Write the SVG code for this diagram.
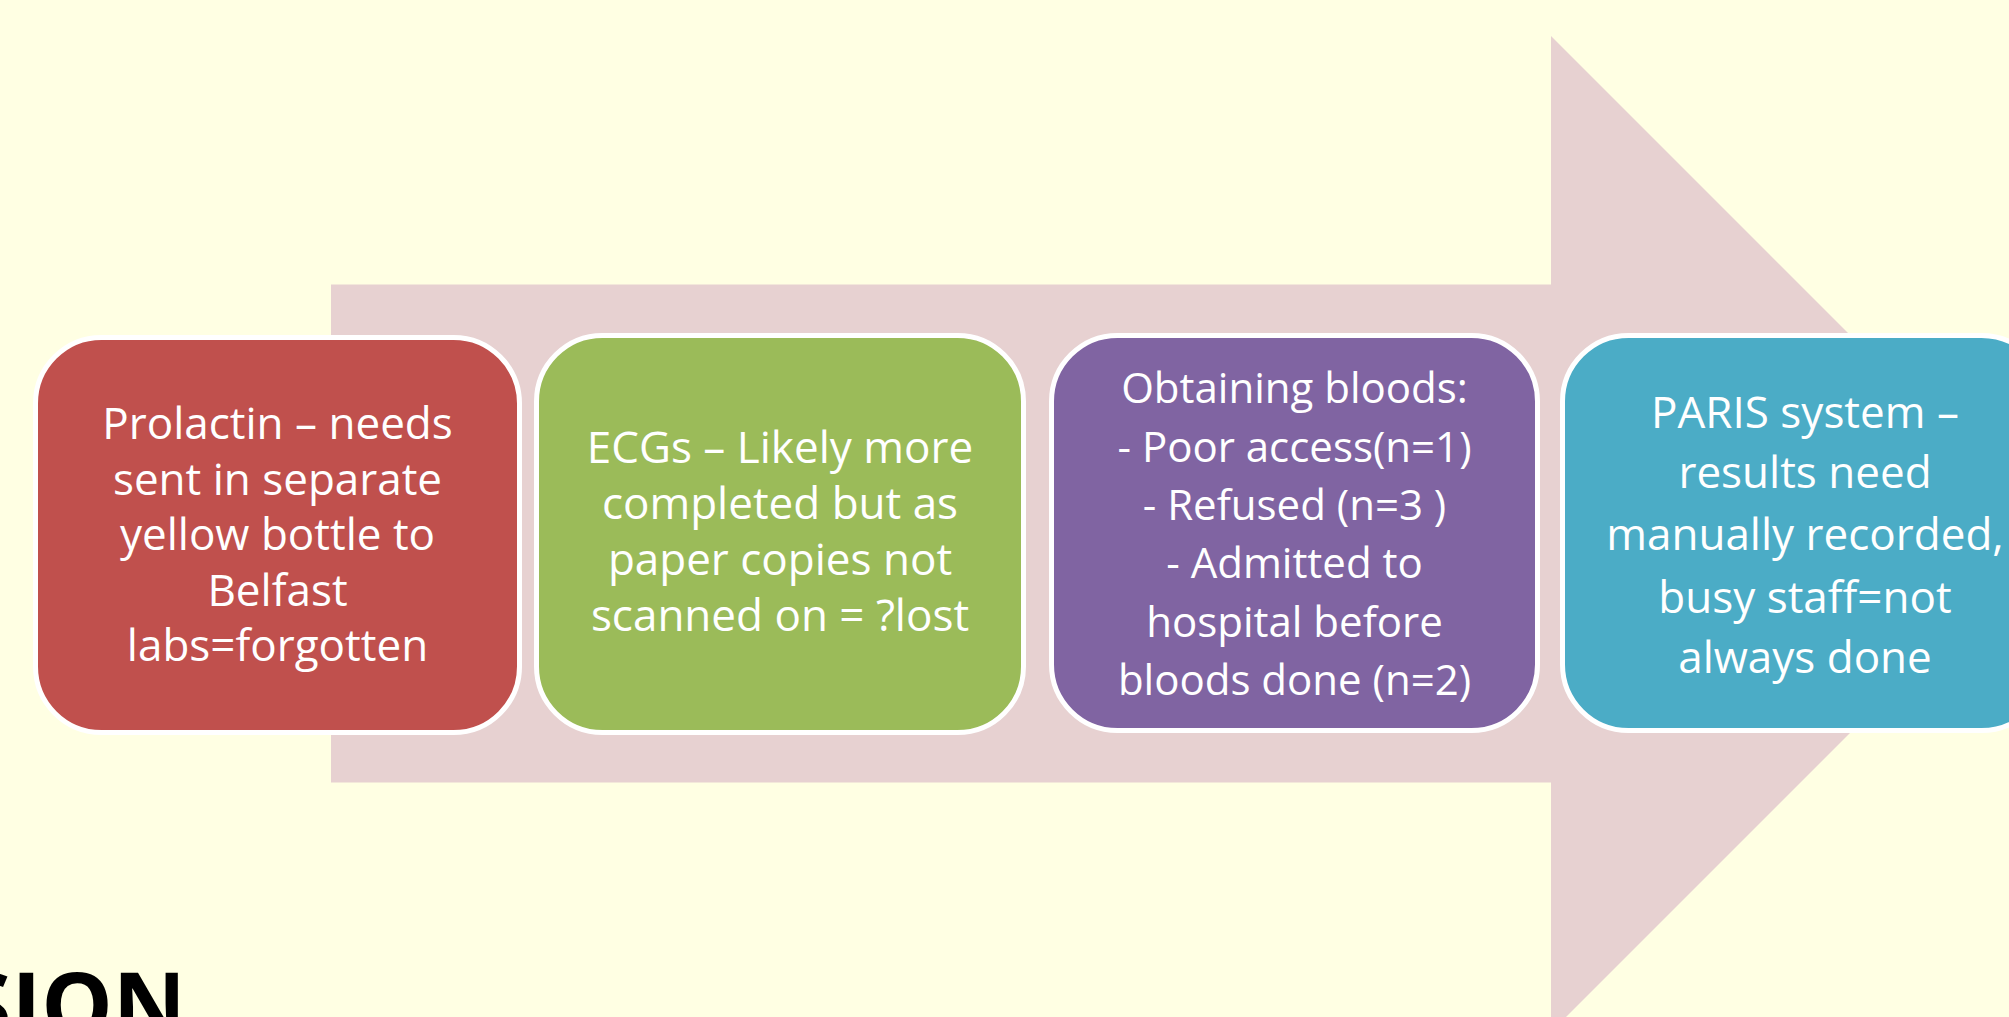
<svg xmlns="http://www.w3.org/2000/svg" width="2009" height="1017" viewBox="0 0 2009 1017">
  <style>
    .box { stroke: #FFFFFF; stroke-width: 5; }
    .t { font-family: "Open Sans", "Liberation Sans", sans-serif; font-size: 44px; fill: #FFFFFF; text-anchor: middle; }
    .t3 { font-size: 42px; }
    .title { font-family: "Open Sans", "Liberation Sans", sans-serif; font-weight: bold; font-size: 90px; fill: #000000; text-anchor: end; }
  </style>
  <rect x="0" y="0" width="2009" height="1017" fill="#FFFFE3"/>
  <g id="arrow">
    <polygon points="331,284.5 1551,284.5 1551,36 2049,534 1551,1032 1551,782.5 331,782.5" fill="#E7D1D1"/>
  </g>
  <g id="connectors"></g>
  <g id="node-prolactin">
    <rect class="box" x="35.5" y="337.5" width="484" height="395" rx="66" fill="#C0504D"/>
    <text class="t" x="277.5" y="439">Prolactin – needs</text>
    <text class="t" x="277.5" y="495">sent in separate</text>
    <text class="t" x="277.5" y="550">yellow bottle to</text>
    <text class="t" x="277.5" y="606">Belfast</text>
    <text class="t" x="277.5" y="661">labs=forgotten</text>
  </g>
  <g id="node-ecgs">
    <rect class="box" x="536.5" y="335.5" width="487" height="397" rx="66" fill="#9BBB59"/>
    <text class="t" x="780" y="463">ECGs – Likely more</text>
    <text class="t" x="780" y="519">completed but as</text>
    <text class="t" x="780" y="575">paper copies not</text>
    <text class="t" x="780" y="631">scanned on = ?lost</text>
  </g>
  <g id="node-bloods">
    <rect class="box" x="1051.5" y="335.5" width="486" height="395" rx="66" fill="#8064A2"/>
    <text class="t t3" x="1294.5" y="403">Obtaining bloods:</text>
    <text class="t t3" x="1294.5" y="462">- Poor access(n=1)</text>
    <text class="t t3" x="1294.5" y="520">- Refused (n=3 )</text>
    <text class="t t3" x="1294.5" y="578">- Admitted to</text>
    <text class="t t3" x="1294.5" y="637">hospital before</text>
    <text class="t t3" x="1294.5" y="695">bloods done (n=2)</text>
  </g>
  <g id="node-paris">
    <rect class="box" x="1562.5" y="335.5" width="485" height="395" rx="66" fill="#4BACC6"/>
    <text class="t" x="1805" y="428">PARIS system –</text>
    <text class="t" x="1805" y="488">results need</text>
    <text class="t" x="1805" y="550">manually recorded,</text>
    <text class="t" x="1805" y="613">busy staff=not</text>
    <text class="t" x="1805" y="673">always done</text>
  </g>
  <g id="title">
    <text class="title" x="186" y="1037">SION</text>
  </g>
</svg>
